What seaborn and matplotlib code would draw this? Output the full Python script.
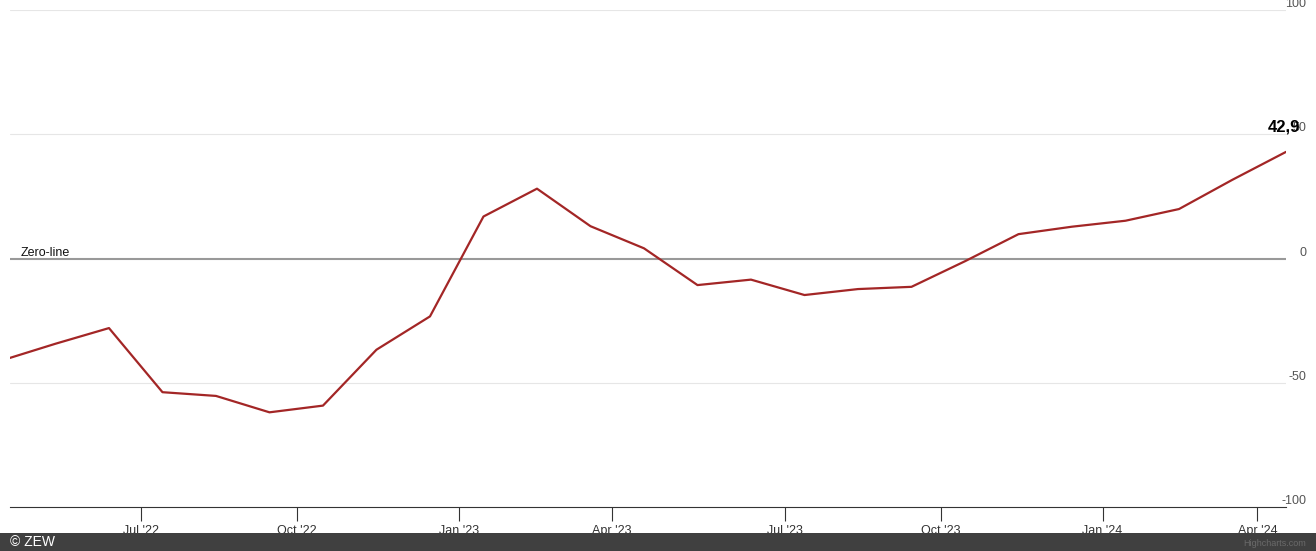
import numpy as np
import pandas as pd
import matplotlib
matplotlib.use("Agg")
import matplotlib.pyplot as plt
import seaborn as sns
from matplotlib.patches import Rectangle

# ── Data (ZEW economic sentiment, release dates) ───
release_dates = ["2022-04-12", "2022-05-17", "2022-06-14", "2022-07-12",
                 "2022-08-16", "2022-09-13", "2022-10-18", "2022-11-15",
                 "2022-12-13", "2023-01-17", "2023-02-21", "2023-03-21",
                 "2023-04-18", "2023-05-16", "2023-06-13", "2023-07-11",
                 "2023-08-15", "2023-09-12", "2023-10-17", "2023-11-14",
                 "2023-12-12", "2024-01-16", "2024-02-20", "2024-03-19",
                 "2024-04-16"]
values = [-41.0, -34.3, -28.0, -53.8, -55.3, -61.9, -59.2, -36.7, -23.3,
          16.9, 28.1, 13.0, 4.1, -10.7, -8.5, -14.7, -12.3, -11.4, -1.1,
          9.8, 12.8, 15.2, 19.9, 31.7, 42.9]
tick_dates  = ["2022-07-01", "2022-10-01", "2023-01-01", "2023-04-01",
               "2023-07-01", "2023-10-01", "2024-01-01", "2024-04-01"]
tick_labels = ["Jul '22", "Oct '22", "Jan '23", "Apr '23",
               "Jul '23", "Oct '23", "Jan '24", "Apr '24"]
y_ticks = [-100, -50, 0, 50, 100]

LINE_COLOR = "#a32626"

df = pd.DataFrame({"date": pd.to_datetime(release_dates), "value": values})
df["pos"] = np.arange(len(df))   # ordinal axis: points equally spaced

# month-start ticks interpolated between release points (ordinal axis)
rel_num  = df["date"].values.astype("int64")
tick_num = pd.to_datetime(tick_dates).values.astype("int64")
tick_pos = np.interp(tick_num, rel_num, df["pos"].values)

# ── Figure ─────────────────────────────────────────
sns.set_theme(style="white")
plt.rcParams["font.family"] = ["Liberation Sans", "DejaVu Sans"]

W, H = 1316, 551
fig = plt.figure(figsize=(W / 100, H / 100), dpi=100)
ax = fig.add_axes([10 / W, (H - 507) / H, 1276 / W, 497 / H])

for g in [100, 50, -50]:
    ax.axhline(g, color="#e6e6e6", lw=0.8, zorder=1)
ax.axhline(0, color="#999999", lw=1.5, zorder=2)
ax.text(0.008, 0, "Zero-line", transform=ax.get_yaxis_transform(),
        fontsize=9, color="#111111", va="bottom", ha="left")

sns.lineplot(data=df, x="pos", y="value", ax=ax, color=LINE_COLOR,
             lw=1.6, zorder=3)

ax.set_xlim(0.15, df["pos"].iloc[-1])
ax.set_ylim(-100, 100)

ax.set_xticks(tick_pos)
ax.set_xticklabels(tick_labels, fontsize=9, color="#333333")
ax.tick_params(axis="x", length=10, width=0.8, color="#333333",
               direction="out", pad=3, bottom=True)

ax.yaxis.tick_right()
ax.set_yticks(y_ticks)
ax.set_yticklabels([str(v) for v in y_ticks], fontsize=9, color="#555555")
ax.tick_params(axis="y", length=0, pad=14.5)
plt.setp(ax.get_yticklabels(), ha="right", va="bottom")

ax.set_xlabel("")
ax.set_ylabel("")
for s in ["top", "left", "right"]:
    ax.spines[s].set_visible(False)
ax.spines["bottom"].set_color("#333333")
ax.spines["bottom"].set_linewidth(0.8)

# last value label
last = df.iloc[-1]
ax.annotate(f"{last['value']:.1f}".replace(".", ","),
            xy=(last["pos"], last["value"]), xytext=(-1.5, 18),
            textcoords="offset points", ha="center", va="center",
            fontsize=12, fontweight="bold", color="black",
            annotation_clip=False, zorder=5)

# footer bar
fig.add_artist(Rectangle((0, 0), 1, 18 / H, transform=fig.transFigure,
                         facecolor="#404040", edgecolor="none", zorder=10))
fig.text(10 / W, 9 / H, "© ZEW", color="white", fontsize=10,
         va="center", ha="left", zorder=11)
fig.text(1306 / W, 8 / H, "Highcharts.com", color="#6a6a6a", fontsize=6.5,
         va="center", ha="right", zorder=11)

plt.savefig("out.png", dpi=100)
plt.close()
